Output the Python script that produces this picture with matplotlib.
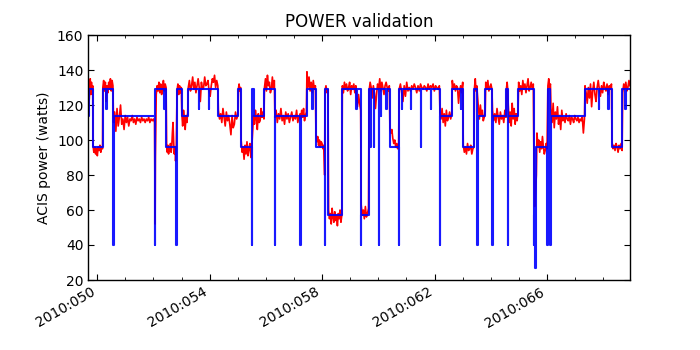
import numpy as np
import matplotlib
matplotlib.use("Agg")
import matplotlib.pyplot as plt
from matplotlib.ticker import FixedLocator, MultipleLocator, FuncFormatter

# Model power (blue): day-of-year 2010 where the value changes, and the new value
model_days = [49.68, 49.72, 49.84, 50.20, 50.33, 50.35, 50.57, 50.58, 52.05, 52.06,
              52.38, 52.40, 52.46, 52.82, 52.83, 53.00, 53.23, 53.61, 53.63, 53.97,
              53.99, 54.30, 55.01, 55.11, 55.51, 55.52, 55.58, 55.94, 56.31, 56.32,
              57.23, 57.24, 57.45, 57.64, 57.66, 57.77, 58.10, 58.11, 58.22, 58.71,
              59.21, 59.23, 59.38, 59.39, 59.66, 59.72, 59.73, 59.83, 59.84, 60.01,
              60.02, 60.08, 60.09, 60.28, 60.30, 60.40, 60.73, 60.74, 60.83, 60.85,
              61.15, 61.17, 61.50, 61.51, 61.86, 61.88, 62.18, 62.19, 62.62, 62.93,
              62.95, 63.01, 63.41, 63.51, 63.53, 63.54, 63.55, 63.81, 64.05, 64.06,
              64.55, 64.61, 64.62, 64.98, 65.52, 65.54, 65.58, 65.60, 65.62, 66.01,
              66.02, 66.12, 66.13, 67.34, 67.83, 67.85, 68.18, 68.20, 68.30, 68.68,
              68.77, 68.79, 68.95]
model_power = [114, 129, 96, 129, 118, 129, 40, 114, 40, 129,
               118, 129, 96, 40, 129, 114, 129, 118, 129, 118,
               129, 114, 129, 96, 40, 129, 114, 129, 40, 114,
               40, 114, 129, 118, 129, 96, 40, 129, 57, 129,
               118, 129, 40, 57, 129, 96, 129, 96, 129, 40,
               129, 114, 129, 118, 129, 96, 40, 129, 118, 129,
               118, 129, 96, 129, 118, 129, 40, 114, 129, 118,
               129, 96, 129, 40, 57, 40, 114, 129, 40, 114,
               129, 40, 114, 129, 40, 57, 27, 40, 96, 40,
               129, 40, 114, 129, 118, 129, 118, 129, 96, 129,
               118, 129, 129]

# Telemetry power (red): (start day, end day, readings across that span)
telem_segments = [
    (49.68, 49.72, [113, 118, 121, 124]),
    (49.73, 49.84, [128, 135, 126, 133, 127, 131]),
    (49.85, 50.19, [97, 93, 96, 92, 95, 91, 96, 94, 97, 93, 96, 95]),
    (50.20, 50.56, [130, 134, 128, 133, 122, 131, 127, 133, 129, 135, 128, 134, 131]),
    (50.58, 52.04, [110, 116, 105, 118, 108, 113, 120, 109, 112, 106, 114, 110,
                    113, 108, 112, 111, 114, 110, 112, 109, 113, 111, 112, 110,
                    113, 111, 112, 110, 112, 111, 113, 110, 112, 111, 112, 110]),
    (52.05, 52.07, [80, 52, 90]),
    (52.10, 52.45, [126, 131, 128, 133, 127, 132, 126, 129, 134, 128, 132, 130]),
    (52.47, 52.81, [96, 93, 97, 92, 95, 94, 98, 93, 96, 104, 110, 99, 92, 96, 88, 94]),
    (52.84, 52.99, [128, 132, 126, 131, 127, 130]),
    (53.01, 53.22, [115, 108, 117, 112, 106, 114, 110, 116]),
    (53.24, 54.29, [130, 134, 128, 131, 136, 129, 133, 127, 131, 135, 130, 122,
                    133, 129, 130, 136, 131, 132, 134, 128, 125, 131, 135, 133,
                    137, 130, 134, 131]),
    (54.31, 55.00, [117, 112, 115, 110, 118, 113, 108, 116, 111, 114, 109, 103,
                    114, 107, 109, 116, 112, 114]),
    (55.02, 55.10, [129, 132, 128, 130]),
    (55.12, 55.50, [100, 93, 96, 89, 97, 92, 99, 91, 95, 98, 90, 96]),
    (55.56, 55.93, [114, 109, 117, 112, 106, 115, 110, 111, 118, 113, 116, 112]),
    (55.95, 56.30, [130, 135, 128, 137, 131, 133, 127, 129, 136, 130, 134]),
    (56.32, 57.22, [113, 117, 110, 115, 112, 118, 111, 114, 109, 116, 112, 115,
                    110, 113, 116, 111, 114, 112, 117, 110, 113, 115]),
    (57.24, 57.44, [112, 117, 113, 118, 111, 114, 116]),
    (57.46, 57.76, [139, 130, 136, 128, 133, 127, 134, 129, 131]),
    (57.78, 58.09, [103, 99, 102, 97, 100, 96, 99, 98, 95, 97, 80]),
    (58.10, 58.21, [128, 131, 127, 129]),
    (58.23, 58.70, [60, 55, 58, 52, 61, 56, 53, 59, 54, 57, 51, 58, 55, 60, 53, 57]),
    (58.72, 59.20, [131, 127, 133, 129, 132, 128, 130, 133, 126, 131, 129, 132, 127, 131]),
    (59.22, 59.37, [124, 119, 126, 121, 117]),
    (59.39, 59.65, [63, 57, 60, 55, 62, 56, 58, 61]),
    (59.67, 60.39, [128, 133, 130, 124, 131, 127, 118, 126, 132, 129, 135, 128,
                    133, 130, 126, 131, 133, 130, 128, 131]),
    (60.41, 60.72, [107, 104, 106, 101, 98, 100, 96, 98, 95, 97]),
    (60.74, 62.17, [129, 132, 127, 122, 131, 125, 133, 128, 130, 128, 131, 129,
                    132, 130, 127, 131, 128, 132, 130, 129, 131, 130, 128, 132,
                    129, 131, 130, 132, 128, 131, 130, 129, 131]),
    (62.19, 62.61, [116, 112, 118, 110, 115, 108, 117, 111, 113, 116, 112, 115]),
    (62.63, 63.00, [134, 129, 132, 128, 131, 130, 121, 128, 131, 127, 133]),
    (63.02, 63.40, [97, 93, 96, 92, 98, 94, 95, 97, 92, 95, 96]),
    (63.42, 63.50, [130, 135, 128, 131]),
    (63.56, 63.80, [118, 112, 120, 114, 117, 111, 113, 116]),
    (63.82, 64.04, [133, 129, 134, 128, 130, 132, 129]),
    (64.06, 64.54, [117, 111, 115, 110, 118, 113, 109, 116, 112, 114, 110, 117, 113]),
    (64.56, 64.60, [130, 133, 129]),
    (64.62, 64.97, [120, 110, 116, 108, 121, 112, 118, 109, 115, 111, 117]),
    (64.99, 65.51, [133, 128, 131, 126, 134, 129, 132, 127, 131, 135, 128, 130,
                    133, 129, 132]),
    (65.53, 65.62, [95, 62, 70, 80]),
    (65.64, 66.00, [104, 97, 100, 93, 99, 95, 102, 96, 92, 94, 98, 95]),
    (66.03, 66.12, [131, 135, 130, 132]),
    (66.14, 67.33, [118, 110, 121, 107, 116, 112, 119, 109, 114, 106, 117, 111,
                    113, 110, 115, 112, 111, 114, 109, 113, 112, 110, 114, 112,
                    111, 113, 110, 112, 111, 113, 104, 112]),
    (67.35, 68.29, [131, 127, 121, 130, 124, 132, 119, 128, 133, 126, 122, 130,
                    134, 129, 125, 131, 127, 133, 130, 128, 132, 126, 131, 129,
                    132]),
    (68.31, 68.67, [99, 95, 97, 94, 98, 96, 93, 97, 95, 98, 94]),
    (68.69, 68.95, [127, 132, 129, 133, 128, 130, 134, 131]),
]

major_days = [50, 54, 58, 62, 66]


def build_telem(segments):
    """Spread each segment's readings evenly over its time span"""
    days, power = [], []
    for t0, t1, vals in segments:
        days.extend(np.linspace(t0, t1, len(vals)))
        power.extend(vals)
    return np.array(days), np.array(power)


telem_days, telem_power = build_telem(telem_segments)

fig = plt.figure(figsize=(7, 3.5), dpi=100)
ax = fig.add_axes([0.126, 0.2, 0.774, 0.7])

ax.plot(telem_days, telem_power, color='r', linewidth=1.2)
ax.plot(model_days, model_power, color='b', linewidth=1.5, alpha=0.9,
        drawstyle='steps-post')

ax.set_xlim(49.68, 68.95)
ax.set_ylim(20, 160)
ax.set_title("POWER validation", fontsize=12)
ax.set_ylabel("ACIS power (watts)", fontsize=10)

ax.xaxis.set_major_locator(FixedLocator(major_days))
ax.xaxis.set_minor_locator(MultipleLocator(1))
ax.xaxis.set_major_formatter(FuncFormatter(lambda x, pos: f"2010:{int(round(x)):03d}"))
ax.yaxis.set_major_locator(MultipleLocator(20))

ax.tick_params(which='both', direction='in', top=True, right=True, labelsize=10)
ax.tick_params(which='major', length=4)
ax.tick_params(which='minor', length=2)
for spine in ax.spines.values():
    spine.set_linewidth(1.0)

for lbl in ax.get_xticklabels():
    lbl.set_rotation(30)
    lbl.set_ha('right')

fig.savefig("out.png", dpi=100, facecolor='white')
